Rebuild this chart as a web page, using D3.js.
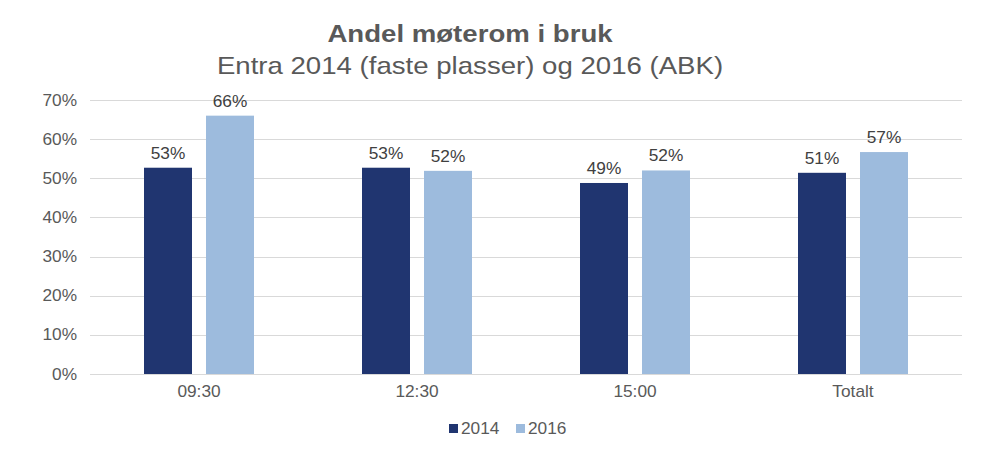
<!DOCTYPE html>
<html>
<head>
<meta charset="utf-8">
<script src="https://cdn.jsdelivr.net/npm/d3@7"></script>
<style>
  body { margin: 0; background: #fff; }
  text { font-family: "Liberation Sans", Arial, sans-serif; }
</style>
</head>
<body>
<div id="chart"></div>
<script>
const categories = ["09:30", "12:30", "15:00", "Totalt"];
const seriesNames = ["2014", "2016"];
const values2014 = [0.527, 0.527, 0.488, 0.514];
const values2016 = [0.66, 0.519, 0.52, 0.567];
const yTicks = [0, 0.1, 0.2, 0.3, 0.4, 0.5, 0.6, 0.7];

const colors = { "2014": "#203570", "2016": "#9dbbdd" };
const width = 995, height = 458;
const margin = { left: 90, right: 33, top: 100, bottom: 84 };
const titleX = 470;
const stretch = "scale(1.08,1)"; // reference text is a bit wider than Arial

const rows = categories.map((c, i) => ({ cat: c, "2014": values2014[i], "2016": values2016[i] }));
const pct = d3.format(".0%");

const svg = d3.select("#chart").append("svg")
    .attr("width", width)
    .attr("height", height);

const x0 = d3.scaleBand()
    .domain(categories)
    .range([margin.left, width - margin.right])
    .paddingInner(0.4954)
    .paddingOuter(0.4954 / 2);

const x1 = d3.scaleBand()
    .domain(seriesNames)
    .range([0, x0.bandwidth()])
    .paddingInner(0.2258);

const y = d3.scaleLinear()
    .domain([0, 0.7])
    .range([height - margin.bottom, margin.top]);

// gridlines
svg.append("g")
    .selectAll("line")
    .data(yTicks)
    .enter()
    .append("line")
    .attr("x1", margin.left)
    .attr("x2", width - margin.right)
    .attr("y1", d => Math.round(y(d)) + 0.5)
    .attr("y2", d => Math.round(y(d)) + 0.5)
    .attr("stroke", "#d9d9d9")
    .attr("stroke-width", 1);

// y axis labels
const yAxis = d3.axisLeft(y).tickValues(yTicks).tickFormat(pct).tickSize(0).tickPadding(12);
const yg = svg.append("g")
    .attr("transform", "translate(" + margin.left + ",0)")
    .call(yAxis);
yg.select(".domain").remove();
yg.selectAll("text")
    .attr("font-size", "16px")
    .attr("fill", "#595959")
    .attr("transform", stretch)
    .style("font-family", "'Liberation Sans', Arial, sans-serif");

// x axis labels
const xAxis = d3.axisBottom(x0).tickSize(0).tickPadding(12);
const xg = svg.append("g")
    .attr("transform", "translate(0," + y(0) + ")")
    .call(xAxis);
xg.select(".domain").remove();
xg.selectAll("text")
    .attr("font-size", "16px")
    .attr("fill", "#595959")
    .attr("transform", stretch)
    .style("font-family", "'Liberation Sans', Arial, sans-serif");

// bars
const groups = svg.append("g")
    .selectAll("g")
    .data(rows)
    .enter()
    .append("g")
    .attr("transform", d => "translate(" + x0(d.cat) + ",0)");

groups.selectAll("rect")
    .data(d => seriesNames.map(s => ({ s: s, v: d[s] })))
    .enter()
    .append("rect")
    .attr("x", d => x1(d.s))
    .attr("width", x1.bandwidth())
    .attr("y", d => y(d.v))
    .attr("height", d => y(0) - y(d.v))
    .attr("fill", d => colors[d.s]);

groups.selectAll("text.val")
    .data(d => seriesNames.map(s => ({ s: s, v: d[s] })))
    .enter()
    .append("text")
    .attr("class", "val")
    .attr("transform", d => "translate(" + (x1(d.s) + x1.bandwidth() / 2) + "," + (y(d.v) - 9) + ") " + stretch)
    .attr("text-anchor", "middle")
    .attr("font-size", "16px")
    .attr("fill", "#404040")
    .text(d => pct(d.v));

// title
svg.append("text")
    .attr("transform", "translate(" + titleX + ",42) scale(1.15,1)")
    .attr("text-anchor", "middle")
    .attr("font-size", "24px")
    .attr("font-weight", "bold")
    .attr("fill", "#595959")
    .text("Andel møterom i bruk");

svg.append("text")
    .attr("transform", "translate(" + titleX + ",74) scale(1.15,1)")
    .attr("text-anchor", "middle")
    .attr("font-size", "24px")
    .attr("fill", "#595959")
    .text("Entra 2014 (faste plasser) og 2016 (ABK)");

// legend
const legendX = [449, 516];
const legend = svg.append("g")
    .selectAll("g")
    .data(seriesNames)
    .enter()
    .append("g")
    .attr("transform", (d, i) => "translate(" + legendX[i] + ",424)");
legend.append("rect")
    .attr("width", 9)
    .attr("height", 9)
    .attr("fill", d => colors[d]);
legend.append("text")
    .attr("transform", "translate(12,10) " + stretch)
    .attr("font-size", "16px")
    .attr("fill", "#595959")
    .text(d => d);
</script>
</body>
</html>
